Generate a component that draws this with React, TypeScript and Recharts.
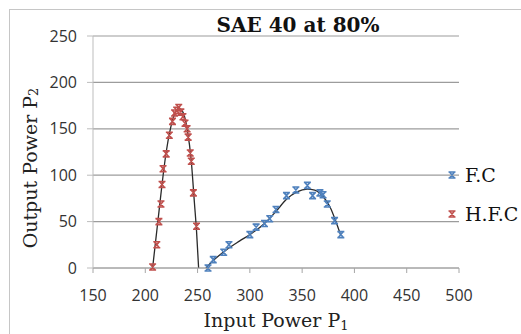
import React from 'react';
import {
  ComposedChart,
  Scatter,
  Line,
  XAxis,
  YAxis,
  CartesianGrid,
} from 'recharts';

const fcX = [260, 265, 275, 280, 300, 306, 314, 319, 325, 335, 344, 355, 360, 367, 370, 374, 381, 387];
const fcY = [0, 9, 17, 25, 36, 44, 48, 53, 63, 78, 84, 89, 78, 81, 79, 69, 51, 36];

const hfcX = [207, 211, 213, 215, 216, 217, 220, 223, 226, 228, 230, 232, 234, 236, 238, 240, 241, 243, 244, 246, 249];
const hfcY = [1, 25, 50, 69, 90, 107, 123, 143, 158, 167, 170, 173, 168, 163, 156, 150, 141, 124, 115, 81, 45];

// trend curves
const fcTrendX = [258, 265, 278, 290, 300, 314, 325, 335, 345, 355, 362, 370, 377, 382, 387];
const fcTrendY = [0, 8, 20, 29, 36, 48, 61, 74, 82, 85, 84, 77, 65, 51, 35];

const hfcTrendX = [207, 210, 213, 216, 220, 224, 228, 232, 236, 240, 244, 247, 249, 251];
const hfcTrendY = [0, 30, 60, 90, 125, 150, 166, 172, 168, 150, 115, 70, 40, 0];

const xTicks = [150, 200, 250, 300, 350, 400, 450, 500];
const yTicks = [0, 50, 100, 150, 200, 250];

const BLUE = '#4F81BD';
const RED = '#C0504D';

const zip = (xs: number[], ys: number[]) => xs.map((x, i) => ({ x, y: ys[i] }));

const fcData = zip(fcX, fcY);
const hfcData = zip(hfcX, hfcY);
const fcTrend = zip(fcTrendX, fcTrendY);
const hfcTrend = zip(hfcTrendX, hfcTrendY);

function starShape(color: string) {
  // eslint-disable-next-line @typescript-eslint/no-explicit-any
  return (props: any) => {
    const { cx, cy } = props;
    if (cx == null || cy == null) return <g />;
    const w = 3.5;
    const h = 3;
    return (
      <path
        d={`M${cx - w},${cy - h}L${cx + w},${cy - h}M${cx - w},${cy + h}L${cx + w},${cy + h}M${cx - w + 1},${cy - h}L${cx + w - 1},${cy + h}M${cx + w - 1},${cy - h}L${cx - w + 1},${cy + h}`}
        stroke={color}
        strokeWidth={1.6}
        fill="none"
      />
    );
  };
}

const serif = '"DejaVu Serif", serif';
const sans = '"Open Sans", sans-serif';

export default function App() {
  return (
    <div
      style={{
        position: 'absolute',
        left: 0,
        top: 0,
        width: 521,
        height: 334,
        overflow: 'hidden',
        background: '#fff',
      }}
    >
      <div
        style={{
          position: 'absolute',
          left: 9,
          top: 9,
          width: 1000,
          height: 1000,
          borderLeft: '1px solid #c6c6c6',
          borderTop: '1px solid #c6c6c6',
        }}
      />
      <div style={{ position: 'absolute', left: 0, top: 0 }}>
        <ComposedChart
          width={521}
          height={334}
          margin={{ top: 36, right: 62, bottom: 36, left: 33 }}
        >
          <CartesianGrid vertical={false} stroke="#9c9c9c" strokeWidth={1.2} />
          <XAxis
            type="number"
            dataKey="x"
            domain={[150, 500]}
            ticks={xTicks}
            allowDataOverflow
            height={30}
            stroke="#a6a6a6"
            tickSize={5}
            tickMargin={17}
            tick={{ fill: '#333', fontSize: 16, fontFamily: sans }}
            label={{
              content: () => (
                <text x={276} y={327} textAnchor="middle" fontFamily={serif} fontSize={19} fill="#222">
                  Input Power P<tspan fontSize={13} dy={3}>1</tspan>
                </text>
              ),
            }}
          />
          <YAxis
            type="number"
            domain={[0, 250]}
            ticks={yTicks}
            width={60}
            stroke="#bdbdbd"
            tickSize={6}
            tickMargin={10}
            tick={{ fill: '#333', fontSize: 16, fontFamily: sans }}
            label={{
              content: () => (
                <text
                  x={30}
                  y={168}
                  transform="rotate(-90, 30, 168)"
                  textAnchor="middle"
                  dominantBaseline="central"
                  fontFamily={serif}
                  fontSize={19}
                  fill="#222"
                >
                  Output Power P<tspan fontSize={13} dy={3}>2</tspan>
                </text>
              ),
            }}
          />
          <Line
            data={fcTrend}
            dataKey="y"
            type="monotone"
            stroke="#2a2a2a"
            strokeWidth={1.3}
            dot={false}
            isAnimationActive={false}
          />
          <Line
            data={hfcTrend}
            dataKey="y"
            type="monotone"
            stroke="#2a2a2a"
            strokeWidth={1.3}
            dot={false}
            isAnimationActive={false}
          />
          <Scatter data={fcData} dataKey="y" shape={starShape(BLUE)} isAnimationActive={false} />
          <Scatter data={hfcData} dataKey="y" shape={starShape(RED)} isAnimationActive={false} />
        </ComposedChart>
      </div>
      <div
        style={{
          position: 'absolute',
          left: 298,
          top: 13,
          transform: 'translateX(-50%)',
          fontFamily: serif,
          fontWeight: 'bold',
          fontSize: 20,
          color: '#111',
          whiteSpace: 'nowrap',
          lineHeight: '24px',
        }}
      >
        SAE 40 at 80%
      </div>
      <svg style={{ position: 'absolute', left: 440, top: 160 }} width={90} height={70}>
        {starShape(BLUE)({ cx: 12, cy: 15 })}
        {starShape(RED)({ cx: 12, cy: 54 })}
        <text x={25} y={15} dominantBaseline="central" fontFamily={serif} fontSize={19} fill="#111">
          F.C
        </text>
        <text x={25} y={54} dominantBaseline="central" fontFamily={serif} fontSize={19} fill="#111">
          H.F.C
        </text>
      </svg>
    </div>
  );
}
